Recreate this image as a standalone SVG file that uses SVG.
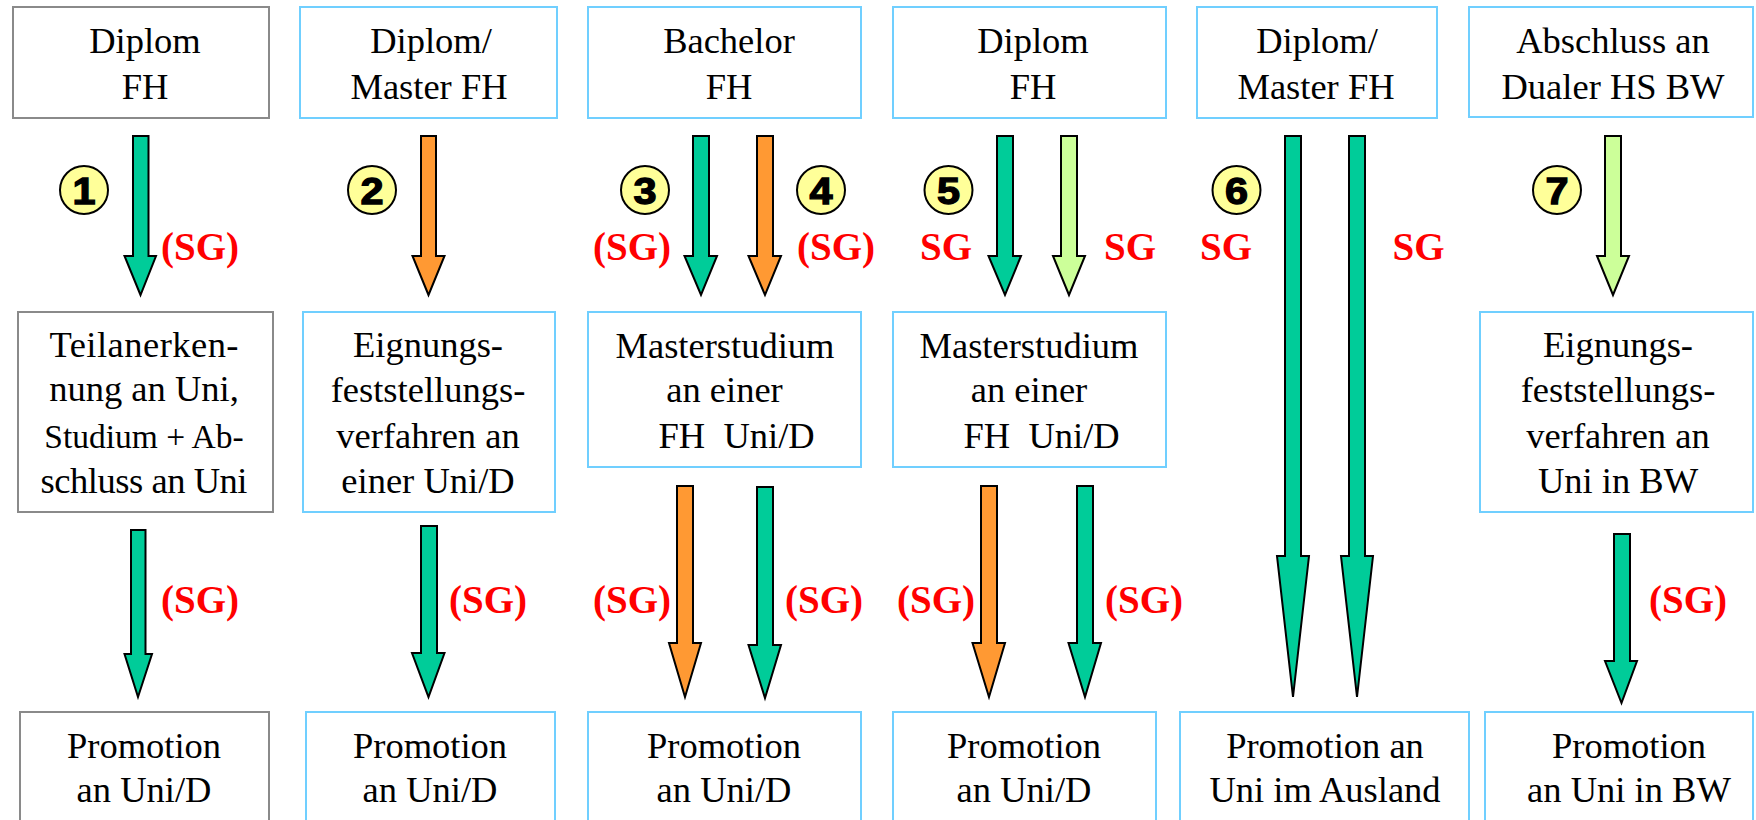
<svg xmlns="http://www.w3.org/2000/svg" width="1756" height="820" viewBox="0 0 1756 820">
<style>
.box{fill:#fff;stroke-width:2}
.g{stroke:#8a8a8a}
.b{stroke:#70cfff}
.t{font-family:"Liberation Serif","Times New Roman",serif;font-size:36.5px;fill:#000;text-anchor:middle}
.st{text-anchor:start}
.sg{font-family:"Liberation Serif","Times New Roman",serif;font-weight:bold;font-size:39px;fill:#ff0000;text-anchor:middle}
.num{font-family:"Liberation Sans",Arial,sans-serif;font-weight:bold;font-size:37px;fill:#000;stroke:#000;stroke-width:1.3;text-anchor:middle}
.c{fill:#ffff99;stroke:#000;stroke-width:2}
.ar{stroke:#000;stroke-width:2;stroke-linejoin:miter}
.gr{fill:#00cc99}
.or{fill:#ff9933}
.li{fill:#ccff99}
</style>
<rect width="1756" height="820" fill="#fff"/>

<g id="connectors">
<path class="ar gr" d="M133,136H148.5V256H156L140.5,295L124.5,256H133Z"/>
<path class="ar or" d="M421,136H436V256H444.5L428.5,295L412.5,256H421Z"/>
<path class="ar gr" d="M693,136H709V256H717L701,295L684.5,256H693Z"/>
<path class="ar or" d="M757,136H773V256H781L765,295L748.5,256H757Z"/>
<path class="ar gr" d="M997,136H1013V256H1021L1005,295L988.5,256H997Z"/>
<path class="ar li" d="M1061,136H1077V256H1085L1069,295L1053,256H1061Z"/>
<path class="ar gr" d="M1285,136H1301V556H1309L1293,697L1277,556H1285Z"/>
<path class="ar gr" d="M1349,136H1365V556H1373L1357,697L1341,556H1349Z"/>
<path class="ar li" d="M1605,136H1621V256H1629L1613,295L1597,256H1605Z"/>
<path class="ar gr" d="M131,530H145.5V654H152L138,697L124.5,654H131Z"/>
<path class="ar gr" d="M421,526H437V653H444.5L428.5,697L412,653H421Z"/>
<path class="ar or" d="M677,486H693V643H701L685,697L669,643H677Z"/>
<path class="ar gr" d="M757,487H773V645H781L765,698L748.5,645H757Z"/>
<path class="ar or" d="M981,486H997V643H1005L989,697L972.5,643H981Z"/>
<path class="ar gr" d="M1077,486H1093V643H1101L1085,697L1068.5,643H1077Z"/>
<path class="ar gr" d="M1614,534H1630V661H1637L1621.5,703L1605,661H1614Z"/>
</g>

<g id="route-labels">
<g id="n1"><circle class="c" cx="84" cy="190" r="24"/><text class="num" transform="translate(84,204) scale(1.12,1)">1</text></g>
<g id="n2"><circle class="c" cx="372" cy="190" r="24"/><text class="num" transform="translate(372,204) scale(1.12,1)">2</text></g>
<g id="n3"><circle class="c" cx="645" cy="190" r="24"/><text class="num" transform="translate(645,204) scale(1.12,1)">3</text></g>
<g id="n4"><circle class="c" cx="821" cy="190" r="24"/><text class="num" transform="translate(821,204) scale(1.12,1)">4</text></g>
<g id="n5"><circle class="c" cx="948.5" cy="190" r="24"/><text class="num" transform="translate(948.5,204) scale(1.12,1)">5</text></g>
<g id="n6"><circle class="c" cx="1236.5" cy="190" r="24"/><text class="num" transform="translate(1236.5,204) scale(1.12,1)">6</text></g>
<g id="n7"><circle class="c" cx="1557" cy="190" r="24"/><text class="num" transform="translate(1557,204) scale(1.12,1)">7</text></g>

<text class="sg" x="200" y="260">(SG)</text>
<text class="sg" x="632" y="260">(SG)</text>
<text class="sg" x="836" y="260">(SG)</text>
<text class="sg" x="946" y="260">SG</text>
<text class="sg" x="1130" y="260">SG</text>
<text class="sg" x="1226" y="260">SG</text>
<text class="sg" x="1418.5" y="260">SG</text>

<text class="sg" x="200" y="613">(SG)</text>
<text class="sg" x="488" y="613">(SG)</text>
<text class="sg" x="632" y="613">(SG)</text>
<text class="sg" x="824" y="613">(SG)</text>
<text class="sg" x="936" y="613">(SG)</text>
<text class="sg" x="1144" y="613">(SG)</text>
<text class="sg" x="1688" y="613">(SG)</text>
</g>

<g id="top1"><rect class="box g" x="13" y="7" width="256" height="111"/>
<text class="t" x="145" y="53">Diplom</text>
<text class="t" x="145" y="99">FH</text></g>
<g id="top2"><rect class="box b" x="300" y="7" width="257" height="111"/>
<text class="t" x="431" y="53">Diplom/</text>
<text class="t" x="429" y="99">Master FH</text></g>
<g id="top3"><rect class="box b" x="588" y="7" width="273" height="111"/>
<text class="t" x="729" y="53">Bachelor</text>
<text class="t" x="729" y="99">FH</text></g>
<g id="top4"><rect class="box b" x="893" y="7" width="273" height="111"/>
<text class="t" x="1033" y="53">Diplom</text>
<text class="t" x="1033" y="99">FH</text></g>
<g id="top5"><rect class="box b" x="1197" y="7" width="240" height="111"/>
<text class="t" x="1317" y="53">Diplom/</text>
<text class="t" x="1316" y="99">Master FH</text></g>
<g id="top6"><rect class="box b" x="1469" y="7" width="284" height="110"/>
<text class="t" x="1613" y="53">Abschluss an</text>
<text class="t" x="1613" y="99">Dualer HS BW</text></g>

<g id="mid1"><rect class="box g" x="18" y="312" width="255" height="200"/>
<text class="t" x="144" y="357" textLength="189" lengthAdjust="spacing">Teilanerken-</text>
<text class="t" x="144" y="401">nung an Uni,</text>
<text class="t" x="144" y="448" style="font-size:33.5px">Studium + Ab-</text>
<text class="t" x="144" y="493" textLength="207" lengthAdjust="spacing">schluss an Uni</text></g>
<g id="mid2"><rect class="box b" x="303" y="312" width="252" height="200"/>
<text class="t" x="428" y="357">Eignungs-</text>
<text class="t" x="428" y="402">feststellungs-</text>
<text class="t" x="428" y="448">verfahren an</text>
<text class="t" x="428" y="493">einer Uni/D</text></g>
<g id="mid3"><rect class="box b" x="588" y="312" width="273" height="155"/>
<text class="t" x="725" y="358">Masterstudium</text>
<text class="t" x="724.5" y="402">an einer</text>
<text class="t st" x="658.5" y="448" xml:space="preserve">FH  Uni/D</text></g>
<g id="mid4"><rect class="box b" x="893" y="312" width="273" height="155"/>
<text class="t" x="1029" y="358">Masterstudium</text>
<text class="t" x="1029" y="402">an einer</text>
<text class="t st" x="963.5" y="448" xml:space="preserve">FH  Uni/D</text></g>
<g id="mid7"><rect class="box b" x="1480" y="312" width="273" height="200"/>
<text class="t" x="1618" y="357">Eignungs-</text>
<text class="t" x="1618" y="402">feststellungs-</text>
<text class="t" x="1618" y="448">verfahren an</text>
<text class="t" x="1618" y="493">Uni in BW</text></g>

<g id="bot1"><rect class="box g" x="20" y="712" width="249" height="130"/>
<text class="t" x="144" y="758">Promotion</text>
<text class="t" x="144" y="802">an Uni/D</text></g>
<g id="bot2"><rect class="box b" x="306" y="712" width="249" height="130"/>
<text class="t" x="430" y="758">Promotion</text>
<text class="t" x="430" y="802">an Uni/D</text></g>
<g id="bot3"><rect class="box b" x="588" y="712" width="273" height="130"/>
<text class="t" x="724" y="758">Promotion</text>
<text class="t" x="724" y="802">an Uni/D</text></g>
<g id="bot4"><rect class="box b" x="893" y="712" width="263" height="130"/>
<text class="t" x="1024" y="758">Promotion</text>
<text class="t" x="1024" y="802">an Uni/D</text></g>
<g id="bot5"><rect class="box b" x="1180" y="712" width="289" height="130"/>
<text class="t" x="1325" y="758">Promotion an</text>
<text class="t" x="1325" y="802">Uni im Ausland</text></g>
<g id="bot6"><rect class="box b" x="1485" y="712" width="268" height="130"/>
<text class="t" x="1629" y="758">Promotion</text>
<text class="t" x="1629" y="802">an Uni in BW</text></g>
</svg>
